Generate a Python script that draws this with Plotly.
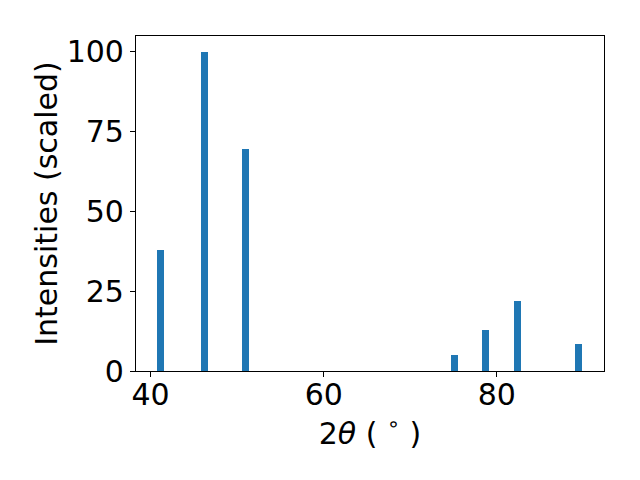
import plotly.graph_objects as go

two_theta = [41.18, 46.25, 50.95, 75.1, 78.68, 82.37, 89.4]
intensity = [37.9, 100.0, 69.6, 4.9, 12.8, 21.9, 8.4]
x_ticks = [40, 60, 80]
y_ticks = [0, 25, 50, 75, 100]

fig = go.Figure()
fig.add_trace(go.Bar(x=two_theta, y=intensity, width=0.8,
                     marker=dict(color="#1f77b4", line=dict(width=0))))

font = dict(family="DejaVu Sans", size=30, color="black")
fig.update_layout(
    width=640, height=480,
    margin=dict(l=128, r=44, t=28, b=117),
    paper_bgcolor="white", plot_bgcolor="white",
    font=font, showlegend=False, bargap=0,
)
fig.update_xaxes(range=[38.31, 92.38], tickvals=x_ticks, ticks="outside", ticklen=5,
                 tickcolor="black", showline=True, linecolor="black", linewidth=1.2,
                 mirror=True, showgrid=False, zeroline=False, tickfont=font,
                 automargin=False, ticklabelstandoff=-8,
                 title=dict(text="2<i>θ</i> ( <sup>∘</sup> )", font=font, standoff=2))
fig.update_yaxes(range=[0, 105], tickvals=y_ticks, ticks="outside", ticklen=5,
                 tickcolor="black", showline=True, linecolor="black", linewidth=1.2,
                 mirror=True, showgrid=False, zeroline=False, tickfont=font,
                 automargin=False,
                 title=dict(text="Intensities (scaled)", font=font, standoff=0))
fig.write_html("out.html")
